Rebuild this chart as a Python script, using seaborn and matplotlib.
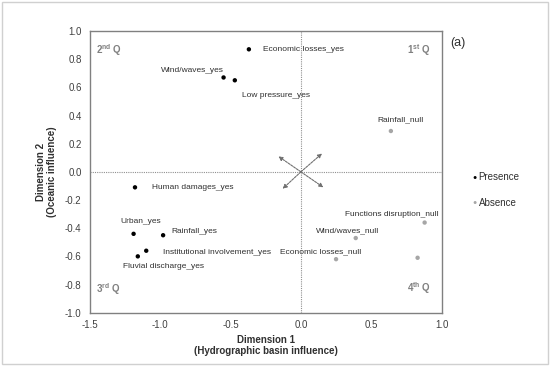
import numpy as np
import pandas as pd
import matplotlib
matplotlib.use('Agg')
import matplotlib.pyplot as plt
import seaborn as sns

# category coordinates (MCA dimensions)
labels = ['Economic losses_yes', 'Wind/waves_yes', 'Low pressure_yes', 'Human damages_yes',
          'Urban_yes', 'Rainfall_yes', 'Institutional involvement_yes', 'Fluvial discharge_yes',
          'Rainfall_null', 'Functions disruption_null', 'Wind/waves_null', 'Economic losses_null', '']
dim1 = [-0.37, -0.55, -0.47, -1.18, -1.19, -0.98, -1.10, -1.16, 0.64, 0.88, 0.39, 0.25, 0.83]
dim2 = [0.87, 0.67, 0.65, -0.11, -0.44, -0.45, -0.56, -0.60, 0.29, -0.36, -0.47, -0.62, -0.61]
group = ['Presence'] * 8 + ['Absence'] * 5

# label offsets (data units) and alignment
lab_dx = [0.10, 0.0, 0.05, 0.12, 0.05, 0.06, 0.12, 0.18, 0.07, 0.10, -0.06, -0.11, 0]
lab_dy = [0.0, 0.05, -0.11, 0.0, 0.09, 0.03, -0.01, -0.07, 0.08, 0.06, 0.05, 0.05, 0]
lab_ha = ['left', 'right', 'left', 'left', 'center', 'left', 'left', 'center',
          'center', 'right', 'center', 'center', 'left']

# direction arrows
arr_dx = [-0.16, 0.15, -0.13, 0.16]
arr_dy = [0.11, 0.13, -0.12, -0.11]

xticks = [-1.5, -1.0, -0.5, 0.0, 0.5, 1.0]
yticks = [-1.0, -0.8, -0.6, -0.4, -0.2, 0.0, 0.2, 0.4, 0.6, 0.8, 1.0]

df = pd.DataFrame({'dim1': dim1, 'dim2': dim2, 'group': group, 'label': labels})

sns.set_style('white')
plt.rcParams['font.family'] = ['Liberation Sans', 'DejaVu Sans']
plt.rcParams['mathtext.fontset'] = 'custom'
plt.rcParams['mathtext.rm'] = 'Liberation Sans'
plt.rcParams['mathtext.bf'] = 'Liberation Sans:bold'

fig = plt.figure(figsize=(5.5, 3.66), dpi=100)
ax = fig.add_axes([90 / 550, 1 - 312.7 / 366, 351.5 / 550, 281.7 / 366])

pal = {'Presence': 'black', 'Absence': '#a6a6a6'}
sns.scatterplot(data=df, x='dim1', y='dim2', hue='group', palette=pal, s=10,
                edgecolor='none', ax=ax, legend=False)

for i, t in enumerate(labels):
    if t:
        ax.text(dim1[i] + lab_dx[i], dim2[i] + lab_dy[i], t, fontsize=6, ha=lab_ha[i],
                va='center', color='#303030')

ax.axhline(0, color='#909090', lw=0.8, ls=(0, (1, 1)))
ax.axvline(0, color='#909090', lw=0.8, ls=(0, (1, 1)))

for dx, dy in zip(arr_dx, arr_dy):
    ax.annotate('', xy=(dx, dy), xytext=(0, 0),
                arrowprops=dict(arrowstyle='-|>', color='#707070', lw=0.8, ls=(0, (2, 1)),
                                mutation_scale=6, shrinkA=0, shrinkB=0))

ax.set_xlim(-1.5, 1.0)
ax.set_ylim(-1.0, 1.0)
ax.set_xticks(xticks)
ax.set_yticks(yticks)
ax.set_xticklabels([f'{v:.1f}' for v in xticks])
ax.set_yticklabels([f'{v:.1f}' for v in yticks])
ax.tick_params(axis='x', labelsize=7, colors='#404040', length=0, pad=5)
ax.tick_params(axis='y', labelsize=7, colors='#404040', length=0, pad=6)
for s in ax.spines.values():
    s.set_color('#808080')
    s.set_linewidth(1)

ax.set_xlabel('Dimension 1\n(Hydrographic basin influence)', fontsize=7, fontweight='bold',
              color='#303030', labelpad=4, linespacing=1.1)
ax.set_ylabel('Dimension 2\n(Oceanic influence)', fontsize=7, fontweight='bold',
              color='#303030', labelpad=6, linespacing=1.1)

qcol = '#808080'
ax.text(0.018, 0.96, '2$^{\\mathbf{nd}}$ Q', transform=ax.transAxes, fontsize=7, color=qcol,
        va='top', fontweight='bold')
ax.text(0.97, 0.96, '1$^{\\mathbf{st}}$ Q', transform=ax.transAxes, fontsize=7, color=qcol,
        va='top', ha='right', fontweight='bold')
ax.text(0.018, 0.055, '3$^{\\mathbf{rd}}$ Q', transform=ax.transAxes, fontsize=7, color=qcol,
        va='bottom', fontweight='bold')
ax.text(0.97, 0.06, '4$^{\\mathbf{th}}$ Q', transform=ax.transAxes, fontsize=7, color=qcol,
        va='bottom', ha='right', fontweight='bold')

fig.text(450 / 550, 1 - 43 / 366, '(a)', fontsize=9, color='#303030', va='center')

# legend
for name, yy in [('Presence', 177.5), ('Absence', 202.7)]:
    fig.text(475 / 550, 1 - yy / 366, '\u25cf', fontsize=5, color=pal[name], va='center', ha='center')
    fig.text(478.5 / 550, 1 - yy / 366, name, fontsize=7, color='#303030', va='center')

fig.patches.append(plt.Rectangle((0.004, 0.006), 0.992, 0.988, transform=fig.transFigure,
                                 fill=False, edgecolor='#d0d0d0', lw=1))

fig.savefig('out.png', dpi=100)
